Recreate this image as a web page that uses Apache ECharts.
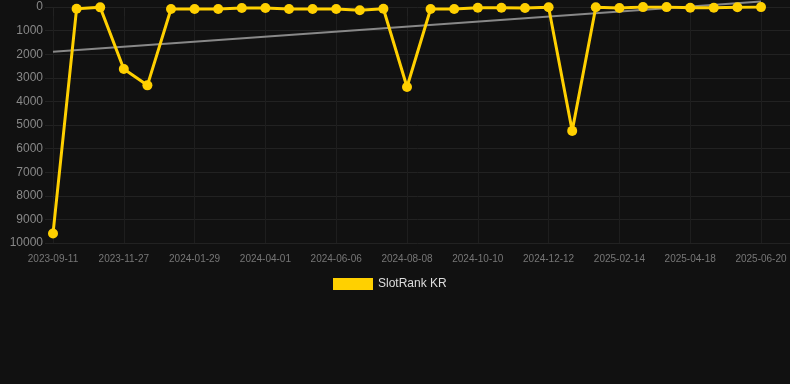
<!DOCTYPE html>
<html>
<head>
<meta charset="utf-8">
<script src="https://cdn.jsdelivr.net/npm/echarts@6/dist/echarts.min.js"></script>
<style>
html,body{margin:0;padding:0;background:#111111;}
#chart{width:790px;height:384px;}
</style>
</head>
<body>
<div id="chart"></div>
<script>
var dates = ['2023-09-11','2023-10-05','2023-10-31','2023-11-27','2023-12-18','2024-01-08','2024-01-29','2024-02-19','2024-03-11','2024-04-01','2024-04-23','2024-05-15','2024-06-06','2024-06-27','2024-07-18','2024-08-08','2024-08-29','2024-09-19','2024-10-10','2024-10-31','2024-11-21','2024-12-12','2025-01-02','2025-01-24','2025-02-14','2025-03-07','2025-03-28','2025-04-18','2025-05-09','2025-05-30','2025-06-20'];
var rankKR = [9600,72,15,2630,3320,85,85,85,42,42,85,85,85,140,72,3390,85,85,30,30,42,13,5250,13,42,5,5,30,30,13,5];
var trendStart = 1894;
var trendEnd = -230;
var yTicks = {min:0, max:10000, step:1000};

var trendData = dates.map(function(d,i){ return i===0 ? trendStart : (i===dates.length-1 ? trendEnd : null); });
var gridColor = '#222222';

var chart = echarts.init(document.getElementById('chart'));
chart.setOption({
  backgroundColor:'#111111',
  animation:false,
  textStyle:{fontFamily:'Liberation Sans, Arial, sans-serif'},
  grid:[
    {left:53, right:29, top:7, bottom:141, containLabel:false},
    {left:45, right:0, top:7, bottom:141, containLabel:false}
  ],
  legend:{
    data:[{name:'SlotRank KR', icon:'rect'}],
    top:278, left:333, itemWidth:40, itemHeight:12, itemGap:10, padding:0,
    textStyle:{color:'#dddddd', fontSize:12}
  },
  xAxis:[
    {
      type:'category', data:dates, boundaryGap:false, gridIndex:0,
      axisLine:{show:false},
      axisTick:{show:true, interval:2, length:9, lineStyle:{color:gridColor}},
      axisLabel:{interval:2, color:'#777777', fontSize:10, margin:11},
      splitLine:{show:true, interval:2, lineStyle:{color:'#1e1e1e'}}
    },
    {
      type:'value', gridIndex:1, show:false, min:0, max:1
    }
  ],
  yAxis:[
    {
      type:'value', inverse:true, min:yTicks.min, max:yTicks.max, interval:yTicks.step, gridIndex:0,
      axisLine:{show:false}, axisTick:{show:false},
      axisLabel:{color:'#888888', fontSize:12, margin:10, formatter:function(v){return String(v);}},
      splitLine:{show:false}
    },
    {
      type:'value', inverse:true, min:yTicks.min, max:yTicks.max, interval:yTicks.step, gridIndex:1,
      axisLine:{show:false}, axisTick:{show:false}, axisLabel:{show:false},
      splitLine:{show:true, lineStyle:{color:gridColor}}
    }
  ],
  series:[
    {
      name:'Trend', type:'line', data:trendData, connectNulls:true, clip:false,
      symbol:'none', lineStyle:{color:'#888888', width:2}, silent:true, z:3
    },
    {
      name:'SlotRank KR', type:'line', data:rankKR,
      symbol:'circle', symbolSize:10,
      itemStyle:{color:'#FFD000'},
      lineStyle:{color:'#FFD000', width:3}, z:4
    }
  ]
});
</script>
</body>
</html>
